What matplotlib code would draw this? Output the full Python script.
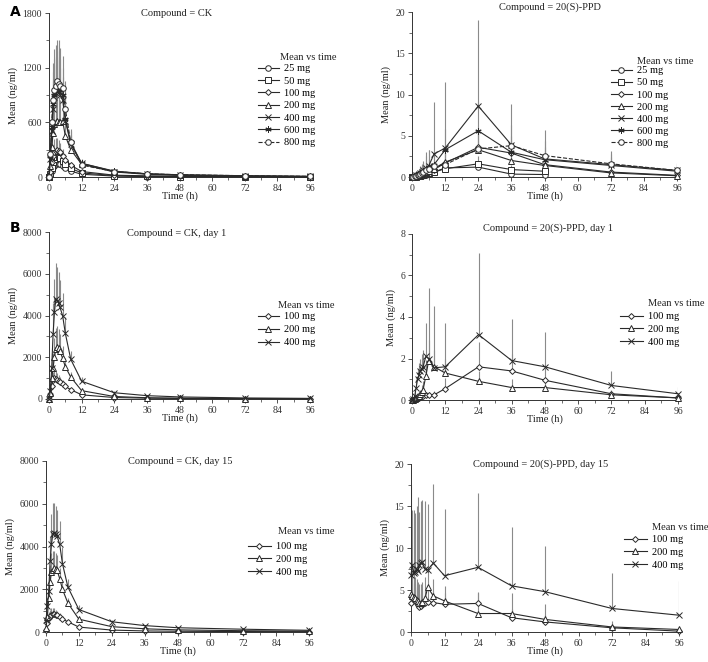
import numpy as np
import matplotlib
matplotlib.use('Agg')
import matplotlib.pyplot as plt
from matplotlib.ticker import MultipleLocator
from matplotlib.lines import Line2D

plt.rcParams['font.family'] = ['Liberation Serif', 'DejaVu Serif']

# sampling times (h)
t = [0, 0.5, 1, 1.5, 2, 2.5, 3, 3.5, 4, 5, 6, 8, 12, 24, 36, 48, 72, 96]
nan = np.nan

doses_a = ['25 mg', '50 mg', '100 mg', '200 mg', '400 mg', '600 mg', '800 mg']
doses_b = ['100 mg', '200 mg', '400 mg']

# Panel A, CK single dose (ng/ml)
ck_a_mean = [
    [0, 25, 70, 105, 125, 140, 150, 145, 140, 120, 100, 65, 30, 10, 5, 3, 2, 1],
    [0, 35, 100, 160, 200, 215, 220, 215, 205, 175, 140, 95, 45, 15, 8, 5, 3, 1],
    [0, 60, 160, 230, 270, 290, 300, 290, 270, 230, 190, 130, 60, 20, 12, 8, 4, 2],
    [0, 120, 330, 480, 580, 600, 610, 600, 600, 620, 450, 300, 140, 55, 30, 18, 10, 5],
    [0, 200, 500, 750, 880, 920, 940, 930, 900, 850, 620, 360, 150, 60, 35, 22, 12, 6],
    [0, 230, 550, 800, 900, 950, 1000, 980, 950, 900, 640, 380, 150, 65, 35, 25, 14, 7],
    [0, 250, 600, 850, 950, 1000, 1050, 1020, 1000, 980, 750, 380, 130, 60, 35, 25, 14, 7],
]
ck_a_sd = [
    [0, 10, 30, 50, 60, 60, 50, 45, 40, 30, 25, 15, 8, 3, 2, 1, 1, 0],
    [0, 20, 50, 80, 90, 90, 80, 70, 60, 50, 40, 25, 12, 5, 3, 2, 1, 1],
    [0, 40, 80, 120, 150, 140, 130, 120, 100, 80, 60, 40, 20, 8, 5, 3, 2, 1],
    [0, 80, 150, 250, 300, 350, 300, 280, 250, 200, 150, 80, 30, 15, 8, 5, 3, 2],
    [0, 100, 200, 300, 350, 400, 380, 350, 300, 250, 200, 100, 40, 20, 10, 6, 4, 2],
    [0, 150, 250, 350, 400, 500, 450, 400, 350, 300, 250, 120, 50, 20, 12, 8, 5, 3],
    [0, 150, 300, 400, 450, 420, 450, 480, 420, 350, 300, 150, 60, 25, 15, 10, 6, 3],
]

# Panel A, 20(S)-PPD single dose (ng/ml)
ppd_a_mean = [
    [0, 0, 0.02, 0.05, 0.08, 0.1, 0.12, 0.15, 0.2, 0.3, 0.4, 0.6, 1.1, 1.2, 0.35, 0.3, nan, nan],
    [0, 0.01, 0.03, 0.06, 0.1, 0.12, 0.15, 0.2, 0.25, 0.35, 0.45, 0.6, 1.0, 1.6, 0.9, 0.7, nan, nan],
    [0, 0.02, 0.05, 0.1, 0.15, 0.2, 0.25, 0.3, 0.4, 0.5, 0.6, 0.9, 1.7, 3.6, 2.9, 1.5, 0.6, 0.2],
    [0, 0.02, 0.05, 0.1, 0.15, 0.2, 0.3, 0.35, 0.45, 0.6, 0.7, 1.0, 1.8, 3.3, 2.0, 1.4, 0.5, 0.15],
    [0, 0.05, 0.1, 0.2, 0.3, 0.4, 0.5, 0.6, 0.8, 1.1, 1.3, 2.8, 3.5, 8.6, 3.9, 2.2, 1.5, 0.8],
    [0, 0.05, 0.1, 0.2, 0.3, 0.4, 0.5, 0.6, 0.7, 1.0, 1.2, 1.5, 3.3, 5.6, 3.0, 2.1, 1.4, 0.7],
    [0, 0.03, 0.08, 0.15, 0.2, 0.3, 0.4, 0.5, 0.6, 0.8, 1.0, 1.3, 1.5, 3.4, 3.8, 2.6, 1.6, 0.8],
]
ppd_a_sd = [
    [0, 0, 0.02, 0.05, 0.05, 0.1, 0.1, 0.1, 0.2, 0.2, 0.3, 0.4, 0.6, 0.8, 0.3, 0.2, nan, nan],
    [0, 0, 0.03, 0.05, 0.1, 0.1, 0.1, 0.2, 0.2, 0.3, 0.3, 0.5, 0.8, 1.0, 0.6, 0.5, nan, nan],
    [0, 0.02, 0.05, 0.1, 0.1, 0.2, 0.2, 0.3, 0.3, 0.4, 0.5, 0.8, 1.2, 2.0, 1.5, 1.0, 0.5, 0.2],
    [0, 0.02, 0.05, 0.1, 0.1, 0.2, 0.3, 0.3, 0.4, 0.5, 0.6, 0.8, 1.2, 2.2, 1.5, 1.0, 0.4, 0.2],
    [0, 0.1, 0.2, 0.3, 0.4, 0.6, 0.8, 1.0, 1.2, 1.9, 2.0, 6.3, 8.0, 10.4, 4.9, 3.5, 1.6, 0.9],
    [0, 0.1, 0.2, 0.3, 0.4, 0.5, 0.7, 0.9, 1.0, 1.5, 2.1, 1.5, 2.5, 3.5, 2.0, 1.5, 1.0, 0.6],
    [0, 0.05, 0.1, 0.2, 0.3, 0.4, 0.5, 0.6, 0.8, 1.0, 1.2, 1.2, 1.5, 2.5, 2.5, 1.8, 1.2, 0.8],
]

# Panel B, CK day 1 (ng/ml)
ck_d1_mean = [
    [0, 200, 600, 900, 1000, 950, 900, 850, 800, 700, 600, 450, 200, 70, 40, 25, 15, 10],
    [0, 300, 1000, 1500, 2000, 2400, 2500, 2450, 2300, 1950, 1550, 1050, 400, 120, 60, 40, 20, 10],
    [0, 400, 1500, 3100, 4150, 4800, 4700, 4600, 4400, 4000, 3150, 1900, 850, 300, 160, 100, 50, 30],
]
ck_d1_sd = [
    [0, 100, 300, 400, 450, 400, 350, 300, 250, 200, 150, 100, 50, 20, 10, 8, 5, 3],
    [0, 200, 500, 700, 900, 1000, 1000, 900, 800, 600, 400, 250, 100, 40, 20, 12, 8, 4],
    [0, 300, 700, 1500, 1600, 1700, 1600, 1500, 1300, 1100, 800, 400, 200, 80, 40, 25, 15, 10],
]

# Panel B, 20(S)-PPD day 1 (ng/ml)
ppd_d1_mean = [
    [0, 0.02, 0.05, 0.08, 0.1, 0.12, 0.15, 0.18, 0.2, 0.22, 0.25, 0.25, 0.55, 1.6, 1.4, 0.95, 0.3, 0.1],
    [0, 0.02, 0.05, 0.1, 0.15, 0.2, 0.3, 0.4, 0.5, 1.15, 1.9, 1.6, 1.3, 0.9, 0.6, 0.6, 0.25, 0.1],
    [0, 0.05, 0.2, 0.6, 1.0, 1.2, 1.4, 1.5, 1.6, 2.1, 2.0, 1.55, 1.6, 3.15, 1.9, 1.6, 0.7, 0.3],
]
ppd_d1_sd = [
    [0, 0.02, 0.05, 0.05, 0.1, 0.1, 0.1, 0.1, 0.1, 0.1, 0.15, 0.2, 0.5, 1.2, 0.8, 0.6, 0.2, 0.1],
    [0, 0.02, 0.05, 0.1, 0.1, 0.2, 0.2, 0.3, 0.4, 0.8, 1.0, 0.8, 0.7, 0.5, 0.4, 0.3, 0.15, 0.1],
    [0, 0.05, 0.2, 0.4, 0.5, 0.6, 0.6, 0.7, 0.8, 1.6, 3.4, 3.0, 2.1, 3.95, 2.0, 1.7, 0.7, 0.35],
]

# Panel C, CK day 15 (ng/ml)
ck_d15_mean = [
    [100, 400, 650, 750, 800, 820, 830, 800, 780, 700, 600, 480, 230, 90, 50, 35, 20, 15],
    [200, 700, 1600, 2350, 2800, 2900, 3000, 2950, 2900, 2500, 2000, 1350, 600, 250, 150, 100, 60, 40],
    [550, 1200, 1900, 3300, 4100, 4600, 4650, 4600, 4500, 4100, 3200, 2100, 1050, 480, 300, 200, 130, 80],
]
ck_d15_sd = [
    [50, 200, 300, 300, 300, 300, 280, 250, 220, 200, 150, 100, 50, 20, 10, 8, 5, 3],
    [100, 300, 600, 800, 900, 900, 800, 750, 700, 500, 400, 250, 100, 40, 20, 12, 8, 4],
    [200, 400, 700, 1200, 1400, 1450, 1400, 1300, 1200, 1100, 800, 400, 200, 80, 40, 25, 15, 10],
]

# Panel C, 20(S)-PPD day 15 (ng/ml)
ppd_d15_mean = [
    [3.5, 4.0, 3.8, 3.7, 3.5, 3.2, 3.0, 3.1, 3.3, 3.5, 3.6, 3.5, 3.3, 3.4, 1.7, 1.2, 0.5, 0.1],
    [4.5, 4.3, 4.2, 4.0, 3.8, 3.7, 3.5, 3.5, 3.6, 4.0, 5.3, 4.3, 3.7, 2.2, 2.2, 1.5, 0.6, 0.3],
    [6.8, 8.0, 7.0, 7.2, 7.5, 7.3, 8.0, 8.2, 8.3, 7.5, 7.4, 8.2, 6.7, 7.7, 5.5, 4.8, 2.8, 2.0],
]
ppd_d15_sd = [
    [2.0, 2.5, 2.0, 2.0, 1.8, 1.5, 1.5, 1.5, 1.6, 1.5, 1.5, 1.4, 1.3, 1.4, 1.0, 0.8, 0.4, 0.2],
    [3.0, 3.0, 2.8, 2.5, 2.5, 2.3, 2.2, 2.2, 2.3, 2.5, 2.5, 2.0, 1.8, 2.5, 2.4, 1.8, 0.7, 0.3],
    [10.7, 6.5, 7.5, 7.0, 7.5, 8.8, 6.3, 7.4, 7.4, 8.1, 7.8, 9.4, 7.9, 8.8, 7.0, 5.4, 4.2, 4.1],
]

styles = {
    '25 mg': dict(marker='o', ls='-', ms=4),
    '50 mg': dict(marker='s', ls='-', ms=4),
    '100 mg': dict(marker='D', ls='-', ms=3),
    '200 mg': dict(marker='^', ls='-', ms=4),
    '400 mg': dict(marker='x', ls='-', ms=4),
    '600 mg': dict(marker=(6, 2, 0), ls='-', ms=4.5),
    '800 mg': dict(marker='o', ls='--', ms=4),
}

W, H = 708, 662
fig = plt.figure(figsize=(W / 100, H / 100), dpi=100)


def px_axes(x0, x1, ytop, ybot):
    return fig.add_axes([x0 / W, 1 - ybot / H, (x1 - x0) / W, (ybot - ytop) / H])


def draw_panel(ax, means, sds, doses, ymax, ymajor, yminor, title, tpos, leg):
    for m, s, d in zip(means, sds, doses):
        m = np.array(m, dtype=float)
        s = np.array(s, dtype=float)
        ax.vlines(t, m, m + s, color='#8a8a8a', lw=0.8, zorder=1)
    for m, d in zip(means, doses):
        st = styles[d]
        ax.plot(t, m, color='#2a2a2a', lw=0.8, ls=st['ls'], marker=st['marker'],
                ms=st['ms'], mfc='white', mec='#2a2a2a', mew=0.7, zorder=3,
                clip_on=False)
    ax.set_xlim(0, 96)
    ax.set_ylim(0, ymax)
    ax.xaxis.set_major_locator(MultipleLocator(12))
    ax.xaxis.set_minor_locator(MultipleLocator(6))
    ax.yaxis.set_major_locator(MultipleLocator(ymajor))
    ax.yaxis.set_minor_locator(MultipleLocator(yminor))
    for sp in ['top', 'right']:
        ax.spines[sp].set_visible(False)
    for sp in ['left', 'bottom']:
        ax.spines[sp].set_linewidth(0.7)
        ax.spines[sp].set_color('#333333')
    ax.tick_params(which='major', length=3, width=0.6, labelsize=7, pad=2, colors='#333333')
    ax.tick_params(which='minor', length=2, width=0.5, colors='#333333')
    ax.set_xlabel('Time (h)', fontsize=7.5, labelpad=-1, color='#222222')
    ax.set_ylabel('Mean (ng/ml)', fontsize=7.5, labelpad=3, color='#222222')
    fig.text(tpos[0] / W, 1 - tpos[1] / H, title, ha='center', va='center',
             fontsize=7.5, color='#222222')
    # legend
    tx, ty, hx, ey, lh, sp_ = leg
    fig.text(tx / W, 1 - ty / H, 'Mean vs time', ha='left', va='center',
             fontsize=7.5, color='#222222')
    handles = [Line2D([], [], color='#2a2a2a', lw=0.8, ls=styles[d]['ls'],
                      marker=styles[d]['marker'], ms=styles[d]['ms'], mfc='white',
                      mec='#2a2a2a', mew=0.7) for d in doses]
    ax.legend(handles, doses, loc='upper left', bbox_to_anchor=(hx / W, 1 - (ey - 5) / H),
              bbox_transform=fig.transFigure, frameon=False, fontsize=7.5,
              borderpad=0, borderaxespad=0, handlelength=lh, handletextpad=0.5,
              labelspacing=sp_)


ax1 = px_axes(49, 310, 13, 177)
draw_panel(ax1, ck_a_mean, ck_a_sd, doses_a, 1800, 600, 300, 'Compound = CK',
           (177, 13), (280, 57, 258, 69, 2.0, 0.29))
ax2 = px_axes(412, 677, 12, 177)
draw_panel(ax2, ppd_a_mean, ppd_a_sd, doses_a, 20, 5, 2.5, 'Compound = 20(S)-PPD',
           (550, 7), (637, 61, 611, 71, 2.0, 0.27))
ax3 = px_axes(49, 310, 232, 399)
draw_panel(ax3, ck_d1_mean, ck_d1_sd, doses_b, 8000, 2000, 1000, 'Compound = CK, day 1',
           (177, 233), (278, 306, 258, 317, 2.0, 0.35))
ax4 = px_axes(412, 678, 234, 400)
draw_panel(ax4, ppd_d1_mean, ppd_d1_sd, doses_b, 8, 2, 1, 'Compound = 20(S)-PPD, day 1',
           (548, 228), (648, 304, 620, 317, 2.2, 0.33))
ax5 = px_axes(46, 309, 461, 632)
draw_panel(ax5, ck_d15_mean, ck_d15_sd, doses_b, 8000, 2000, 1000, 'Compound = CK, day 15',
           (180, 462), (278, 532, 248, 547, 2.2, 0.33))
ax6 = px_axes(411, 679, 464, 632)
draw_panel(ax6, ppd_d15_mean, ppd_d15_sd, doses_b, 20, 5, 2.5, 'Compound = 20(S)-PPD, day 15',
           (541, 464), (652, 527, 624, 540, 2.2, 0.33))

fig.text(10 / W, 1 - 12 / H, 'A', fontsize=10, fontweight='bold', family='DejaVu Sans',
         ha='left', va='center')
fig.text(10 / W, 1 - 228 / H, 'B', fontsize=10, fontweight='bold', family='DejaVu Sans',
         ha='left', va='center')

fig.savefig('out.png', dpi=100)
